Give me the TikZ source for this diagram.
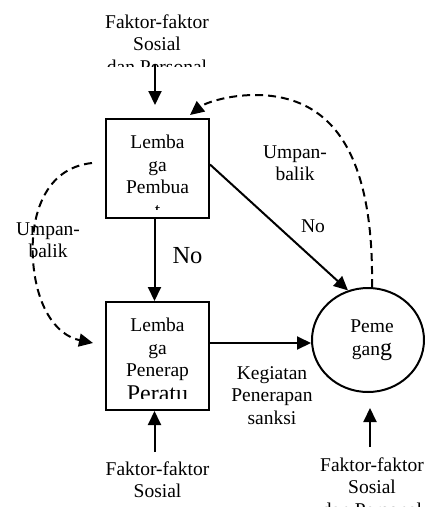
\documentclass[tikz,border=0pt]{standalone}
\usepackage{fontspec}
\setmainfont{Liberation Serif}
\usetikzlibrary{arrows.meta,shapes.geometric}
\newcommand\fsz{\fontsize{19.5}{22.5}\selectfont}
\newcommand\fbig{\fontsize{24}{24}\selectfont}
\begin{document}
\begin{tikzpicture}[x=1pt,y=-1pt,
  lbl/.style={font=\fsz, align=center, inner sep=0pt, anchor=base},
  boxn/.style={draw, line width=2pt, inner sep=0pt, minimum width=103pt},
  ovaln/.style={draw, ellipse, line width=2pt, inner sep=0pt, minimum width=112pt, minimum height=104pt},
  arr/.style={-{Triangle[length=14pt,width=13pt]}, line width=2pt},
  darr/.style={arr, dash pattern=on 8pt off 5pt}]
\useasboundingbox (0,0) rectangle (425,507);
\clip (0,0) rectangle (425,507);
% shapes
\node[boxn, minimum height=99pt] (b1) at (157.5,168.5) {};
\node[boxn, minimum height=108pt] (b2) at (157.5,356) {};
\node[ovaln] (el) at (368,340) {};
% texts (base anchor = baseline of the last line)
\begin{scope}
  \clip (0,0) rectangle (425,66);
  \node[lbl] (ftop) at (157,73) {Faktor-faktor\\Sosial\\dan Personal};
\end{scope}
\begin{scope}
  \clip (107,120) rectangle (208,209);
  \node[lbl] (t1) at (157.5,216) {Lemba\\ga\\Pembua\\t};
\end{scope}
\begin{scope}
  \clip (107,303) rectangle (208,398.5);
  \node[lbl] (t2) at (157.5,401) {Lemba\\ga\\Penerap\\[2pt]{\fbig Peratu}};
\end{scope}
\node[lbl] (eltext) at (372,355) {Peme\\gan{\fbig g}};
\node[lbl] (fbl) at (157.5,497.5) {Faktor-faktor\\Sosial};
\node[lbl] (fbr) at (372,516) {Faktor-faktor\\Sosial\\dan Personal};
\node[lbl] (keg) at (272,424) {Kegiatan\\Penerapan\\sanksi};
\node[lbl] (ul) at (48,257.5) {Umpan-\\balik};
\node[lbl] (ur) at (295,180.5) {Umpan-\\balik};
\node[lbl, font=\fontsize{24.5}{26}\selectfont] (no1) at (187.5,263) {No};
\node[lbl] (no2) at (313,232) {No};
% free ends
\coordinate (ta) at (155,64);
\coordinate (tb) at (155,105);
\coordinate (bl) at (154.5,452);
\coordinate (br) at (370,447);
\coordinate (brt) at (370,408);
\coordinate (ls) at (92,163);
\coordinate (le) at (93,343);
\coordinate (re) at (190,115);
% connectors
\draw[arr] (ta) -- (tb);
\draw[arr] ([xshift=-3pt]b1.south) -- ([xshift=-3pt]b2.north);
\draw[arr] (bl) -- ([xshift=-3pt]b2.south);
\draw[arr] (br) -- (brt);
\draw[arr] ([yshift=-3pt]el.west -| b2.east) -- ([yshift=-3pt]el.west);
\draw[arr] ([yshift=4pt]b1.east) -- (el.112);
\draw[darr] (ls) .. controls (45,168) and (30,215) .. (33,260)
  .. controls (36,305) and (55,335) .. (le);
\draw[darr] ([xshift=4pt]el.north) .. controls (374,150) and (330,95) .. (255,95)
  .. controls (228,95) and (205,103) .. (re);
\end{tikzpicture}
\end{document}
